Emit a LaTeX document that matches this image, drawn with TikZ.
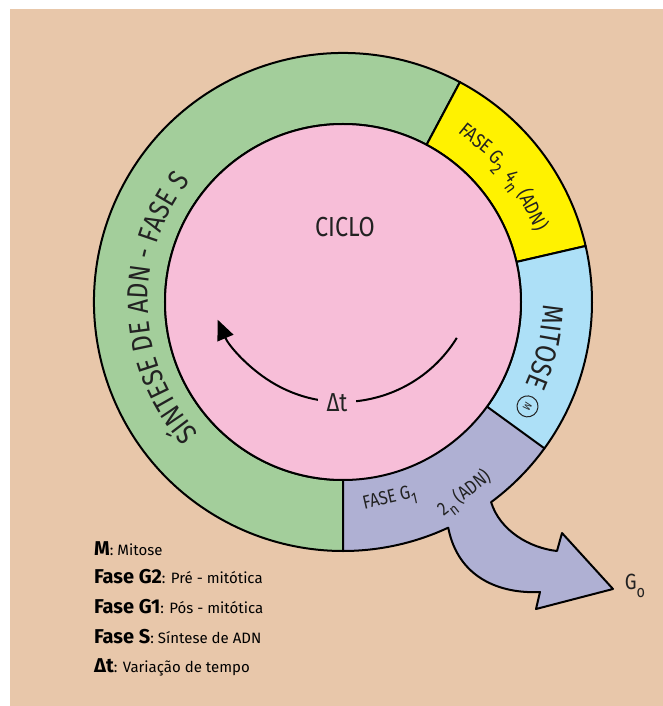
\documentclass[tikz,border=0pt]{standalone}
\usepackage{fontspec}
\setmainfont[FakeStretch=0.85]{Fira Sans}
\newfontfamily\legendfont{Fira Sans}
\usepackage{tikz}
\usetikzlibrary{arrows.meta, decorations.text}

\definecolor{bgpeach}{HTML}{E8C7AA}
\definecolor{phaseS}{HTML}{A3CE9B}
\definecolor{phaseGtwo}{HTML}{FFF200}
\definecolor{phaseM}{HTML}{ADE0F7}
\definecolor{phaseGone}{HTML}{AFB0D3}
\definecolor{cyclepink}{HTML}{F7BED8}
\definecolor{inkgray}{HTML}{222222}

\tikzset{
  ringline/.style={draw=black, line width=2pt, line join=round},
  ringtext/.style={text=inkgray, font=\fontsize{20}{20}\selectfont, inner sep=0pt},
  legendkey/.style={anchor=base west, inner sep=0pt, text=black},
}

\newcommand{\keyfont}{\legendfont\fontsize{20}{20}\selectfont\bfseries}
\newcommand{\valfont}{\legendfont\fontsize{15}{15}\selectfont\mdseries}
% lowered index, #1 = size
\newcommand{\lowsub}[2]{\raisebox{-0.35em}{\fontsize{#1}{#1}\selectfont #2}}

\begin{document}
\begin{tikzpicture}[x=1pt, y=1pt]
    \useasboundingbox (-343,-404) rectangle (320,302);

    % background
    \fill[bgpeach] (-333,-404) rectangle (320,293);

    % fill the G1 sector together with its arrow
    \fill[phaseGone] (-90:178) -- (-90:249) arc[start angle=-90, end angle=-65, radius=249]
        .. controls (115,-276) and (157,-292) .. (197,-290) -- (193,-307) -- (270,-287)
        -- (219,-231) -- (214,-249) .. controls (187,-246) and (157,-229) .. (-53.5:249)
        arc[start angle=-53.5, end angle=-36, radius=249] -- (-36:178)
        arc[start angle=-36, end angle=-90, radius=178] -- cycle;

    % draw the S, G2 and M sectors
    \foreach \a/\b/\col in {62/270/phaseS, 13/62/phaseGtwo, -36/13/phaseM}
      \filldraw[ringline, fill=\col] (\a:178) -- (\a:249)
        arc[start angle=\a, end angle=\b, radius=249] -- (\b:178)
        arc[start angle=\b, end angle=\a, radius=178] -- cycle;

    % outline of G1 and the arrow
    \draw[ringline] (-90:249) arc[start angle=-90, end angle=-65, radius=249]
        .. controls (115,-276) and (157,-292) .. (197,-290) -- (193,-307) -- (270,-287)
        -- (219,-231) -- (214,-249) .. controls (187,-246) and (157,-229) .. (-53.5:249)
        arc[start angle=-53.5, end angle=-36, radius=249];

    % draw the inner circle
    \filldraw[ringline, fill=cyclepink] (0,0) circle[radius=178];

    \node[text=inkgray, font=\fontsize{27.5}{27.5}\selectfont] (ciclo) at (2,75) {CICLO};

    % time arrow
    \coordinate (tstart) at (113.8,-35.9);
    \draw[line width=2pt, -{Triangle[length=20pt, width=17pt]}] (tstart)
        arc[start angle=-31.7, end angle=-157, radius=135];
    \node[fill=cyclepink, inner xsep=9pt, text=inkgray, font=\fontsize{26}{26}\selectfont] (deltat) at (-6,-101) {Δt};

    % labels of the ring
    \path[decorate, decoration={text along path, text align=center, text color=inkgray,
        text={|\fontsize{29}{29}\selectfont|SÍNTESE DE ADN - FASE S}}]
        (262:195) arc[start angle=262, end angle=102, radius=195];
    \path[decorate, decoration={text along path, text align=center, text color=inkgray,
        text={|\fontsize{29}{29}\selectfont|MITOSE}}]
        (20:200) arc[start angle=20, end angle=-45, radius=200];
    \node[draw=inkgray, circle, line width=1pt, minimum size=21pt, inner sep=0pt, rotate=-119,
        text=inkgray, font=\fontsize{11}{11}\selectfont] (mmark) at (-29.5:212) {M};

    \foreach \a/\t in {51/FASE, 42.5/G\lowsub{17}{2}, 35.5/4\lowsub{17}{n}, 26/(ADN)}
      \node[ringtext, rotate=\a-90, anchor=base] (gtwo-\a) at (\a:204) {\t};

    \node[ringtext, font=\fontsize{19}{19}\selectfont, rotate=13] (gonea) at (47,-198) {FASE G\lowsub{16}{1}};
    \node[ringtext, font=\fontsize{19}{19}\selectfont, rotate=38] (goneb) at (122,-192) {2\lowsub{16}{n} (ADN)};

    \node[text=inkgray, font=\fontsize{22}{22}\selectfont] (gzero) at (292,-284) {G\lowsub{17}{o}};

    % legend
    \node[legendkey] (keym) at (-249,-253) {\keyfont M\valfont: Mitose};
    \node[legendkey] (keygtwo) at (-249,-281) {\keyfont Fase G2\valfont: Pré - mitótica};
    \node[legendkey] (keygone) at (-249,-311) {\keyfont Fase G1\valfont: Pós - mitótica};
    \node[legendkey] (keys) at (-249,-341) {\keyfont Fase S\valfont: Síntese de ADN};
    \node[legendkey] (keyt) at (-249,-370) {\keyfont Δt\valfont: Variação de tempo};

\end{tikzpicture}
\end{document}
